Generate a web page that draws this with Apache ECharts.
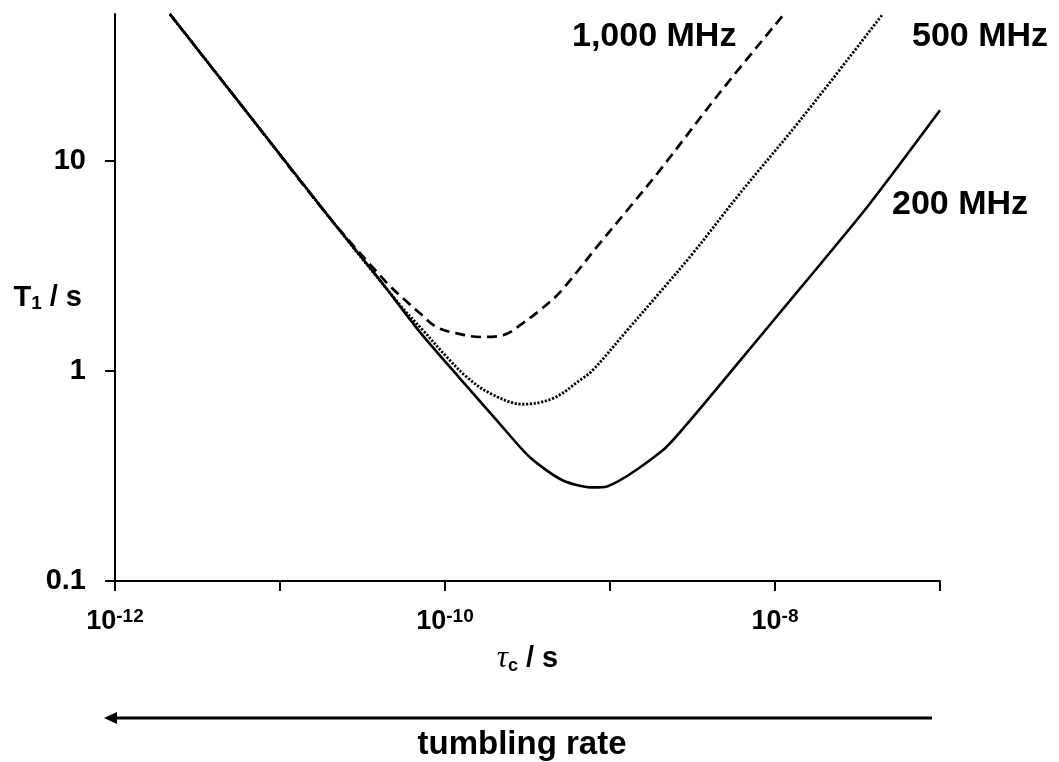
<!DOCTYPE html>
<html>
<head>
<meta charset="utf-8">
<script src="https://cdn.jsdelivr.net/npm/echarts@6/dist/echarts.min.js"></script>
<style>
  html, body { margin: 0; padding: 0; background: #fff; }
  #main { width: 1059px; height: 762px; }
</style>
</head>
<body>
<div id="main"></div>
<script>
// correlation time tau_c (s) and T1 (s)
var tau200 = [2.15e-12, 6.58e-12, 2.01e-11, 4.04e-11, 7.05e-11, 1.23e-10, 2.01e-10, 3.27e-10, 5.19e-10, 7.88e-10, 9.59e-10, 2.09e-9, 3.18e-9, 6.14e-9, 1.42e-8, 3.61e-8, 1.0e-7];
var t1_200 = [50, 16.3, 5.33, 2.70, 1.53, 0.922, 0.595, 0.388, 0.301, 0.279, 0.282, 0.419, 0.603, 1.12, 2.47, 6.01, 17.4];

var tau500 = [2.15e-12, 6.58e-12, 2.01e-11, 5.33e-11, 7.36e-11, 1.03e-10, 1.36e-10, 1.87e-10, 2.97e-10, 4.52e-10, 6.58e-10, 7.88e-10, 1.27e-9, 2.01e-9, 3.18e-9, 6.14e-9, 1.42e-8, 4.45e-8];
var t1_500 = [50, 16.3, 5.33, 2.06, 1.56, 1.16, 0.933, 0.783, 0.694, 0.741, 0.904, 1.01, 1.56, 2.37, 3.63, 7.01, 15.6, 49.4];

var tau1000 = [2.15e-12, 6.58e-12, 2.01e-11, 4.45e-11, 5.56e-11, 7.05e-11, 8.95e-11, 1.18e-10, 1.63e-10, 2.25e-10, 2.97e-10, 3.77e-10, 4.98e-10, 8.69e-10, 1.32e-9, 2.01e-9, 4.65e-9, 1.12e-8];
var t1_1000 = [50, 16.3, 5.33, 2.62, 2.22, 1.88, 1.61, 1.51, 1.45, 1.48, 1.69, 1.95, 2.37, 4.06, 6.03, 9.04, 21.2, 49.4];

var seriesNames = ['200 MHz', '500 MHz', '1,000 MHz'];

var xTickValues = [1e-12, 1e-11, 1e-10, 1e-9, 1e-8, 1e-7];
var xLabelValues = [1e-12, 1e-10, 1e-8];
var yTickValues = [0.1, 1, 10];
var yTickLabels = ['0.1', '1', '10'];

var FONT = 'Liberation Sans, Arial, sans-serif';

function pairs(xs, ys) {
  return xs.map(function (x, i) { return [x, ys[i]]; });
}

var myChart = echarts.init(document.getElementById('main'));

myChart.setOption({
  animation: false,
  backgroundColor: '#fff',
  grid: { left: 115, right: 119, top: 14, bottom: 181, containLabel: false, outerBoundsMode: 'none' },
  xAxis: {
    type: 'log',
    logBase: 10,
    min: 1e-12,
    max: 1e-7,
    axisLine: { lineStyle: { color: '#000', width: 2 } },
    axisTick: { show: true, length: 10, customValues: xTickValues, lineStyle: { color: '#000', width: 2 } },
    splitLine: { show: false },
    axisLabel: {
      customValues: xLabelValues,
      margin: 26,
      formatter: function (v) {
        return '{b|10}{s|' + Math.round(Math.log10(v)) + '}';
      },
      rich: {
        b: { fontFamily: FONT, fontWeight: 'bold', fontSize: 27, lineHeight: 30, color: '#000' },
        s: { fontFamily: FONT, fontWeight: 'bold', fontSize: 19, lineHeight: 18, verticalAlign: 'top', color: '#000' }
      }
    },
    name: '{i|τ}{sub|c}{n| / s}',
    nameLocation: 'middle',
    nameGap: 62,
    nameMoveOverlap: false,
    nameTextStyle: {
      rich: {
        i: { fontFamily: 'Liberation Serif, serif', fontStyle: 'italic', fontSize: 31, lineHeight: 32, color: '#000' },
        sub: { fontFamily: FONT, fontWeight: 'bold', fontSize: 18, lineHeight: 18, verticalAlign: 'bottom', color: '#000' },
        n: { fontFamily: FONT, fontWeight: 'bold', fontSize: 29, lineHeight: 32, color: '#000' }
      }
    }
  },
  yAxis: {
    type: 'log',
    logBase: 10,
    min: 0.1,
    max: 50,
    axisLine: { lineStyle: { color: '#000', width: 2 } },
    axisTick: { show: true, length: 10, customValues: yTickValues, lineStyle: { color: '#000', width: 2 } },
    splitLine: { show: false },
    axisLabel: {
      customValues: yTickValues,
      margin: 29,
      fontFamily: FONT,
      fontWeight: 'bold',
      fontSize: 29,
      color: '#000',
      formatter: function (v) {
        return yTickLabels[Math.round(Math.log10(v)) + 1];
      }
    },
    name: '{t|T}{sub|1}{t| / s}',
    nameLocation: 'middle',
    nameRotate: 0,
    nameGap: 33,
    nameMoveOverlap: false,
    nameTextStyle: {
      rich: {
        t: { fontFamily: FONT, fontWeight: 'bold', fontSize: 29, lineHeight: 32, color: '#000' },
        sub: { fontFamily: FONT, fontWeight: 'bold', fontSize: 19, lineHeight: 20, verticalAlign: 'bottom', color: '#000' }
      }
    }
  },
  series: [
    {
      name: seriesNames[0],
      type: 'line',
      data: pairs(tau200, t1_200),
      symbol: 'none',
      smooth: 0.25,
      lineStyle: { color: '#000', width: 2.6, type: 'solid' }
    },
    {
      name: seriesNames[1],
      type: 'line',
      data: pairs(tau500, t1_500),
      symbol: 'none',
      smooth: 0.35,
      lineStyle: { color: '#000', width: 2.8, type: [2.2, 1.6] }
    },
    {
      name: seriesNames[2],
      type: 'line',
      data: pairs(tau1000, t1_1000),
      symbol: 'none',
      smooth: 0.35,
      lineStyle: { color: '#000', width: 2.7, type: [10, 6] }
    }
  ],
  graphic: [
    { type: 'text', left: 572, top: 20, style: { text: seriesNames[2], font: 'bold 34px ' + FONT, fill: '#000' } },
    { type: 'text', left: 912, top: 20, style: { text: seriesNames[1], font: 'bold 34px ' + FONT, fill: '#000' } },
    { type: 'text', left: 892, top: 188, style: { text: seriesNames[0], font: 'bold 34px ' + FONT, fill: '#000' } },
    // tumbling-rate arrow
    { type: 'line', shape: { x1: 932, y1: 718, x2: 112, y2: 718 }, style: { stroke: '#000', lineWidth: 3 } },
    { type: 'polygon', shape: { points: [[104, 718], [117, 712], [117, 724]] }, style: { fill: '#000' } },
    { type: 'text', x: 522, y: 745, style: { text: 'tumbling rate', font: 'bold 33px ' + FONT, fill: '#000', align: 'center', verticalAlign: 'middle' } }
  ]
});
</script>
</body>
</html>
